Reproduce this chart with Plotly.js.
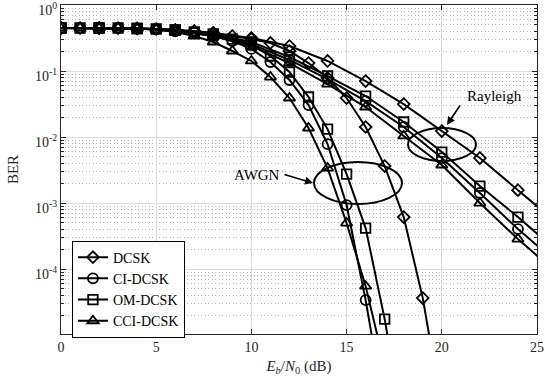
<!DOCTYPE html>
<html>
<head>
<meta charset="utf-8">
<script src="https://cdn.plot.ly/plotly-3.0.1.min.js"></script>
<style>html,body{margin:0;padding:0;background:#fff;}#chart{width:545px;height:387px;}</style>
</head>
<body>
<div id="chart"></div>
<script>
// ---- data ----
var schemes = ["DCSK", "CI-DCSK", "OM-DCSK", "CCI-DCSK"];

// AWGN channel, Eb/N0 step 1 dB
var snrAwgnDcsk = [0,1,2,3,4,5,6,7,8,9,10,11,12,13,14,15,16,17,18,19,20];
var berAwgnDcsk = [0.448,0.448,0.448,0.448,0.441,0.433,0.418,0.404,0.377,0.339,0.305,0.266,0.201,0.132,0.0783,0.039,0.0142,0.00364,0.000614,3.64e-5,7.8e-7];

var snrAwgnCi = [0,1,2,3,4,5,6,7,8,9,10,11,12,13,14,15,16,17];
var berAwgnCi = [0.448,0.448,0.448,0.448,0.441,0.433,0.404,0.377,0.339,0.285,0.216,0.137,0.0731,0.0305,0.00783,0.000933,3.39e-5,7.3e-7];

var snrAwgnOm = [0,1,2,3,4,5,6,7,8,9,10,11,12,13,14,15,16,17,18];
var berAwgnOm = [0.448,0.448,0.448,0.448,0.441,0.433,0.418,0.390,0.351,0.305,0.248,0.169,0.0966,0.0404,0.0132,0.00275,0.000418,1.75e-5,3.6e-7];

var snrAwgnCci = [0,1,2,3,4,5,6,7,8,9,10,11,12,13,14,15,16,17];
var berAwgnCci = [0.448,0.448,0.448,0.448,0.441,0.425,0.390,0.339,0.275,0.201,0.142,0.0811,0.039,0.0137,0.00339,0.000498,5.52e-5,3.39e-6];

// Rayleigh fading channel, Eb/N0 step 2 dB
var snrRay = [0,2,4,6,8,10,12,14,16,18,20,22,24,26];
var berRayDcsk = [0.448,0.448,0.441,0.418,0.377,0.316,0.239,0.142,0.0705,0.0316,0.0123,0.00481,0.00157,0.000515];
var berRayOm   = [0.448,0.448,0.441,0.418,0.364,0.275,0.163,0.0840,0.0418,0.0169,0.00593,0.00181,0.000614,0.000194];
var berRayCi   = [0.448,0.448,0.441,0.404,0.351,0.257,0.147,0.0757,0.0351,0.0142,0.00481,0.00142,0.000404,0.000128];
var berRayCci  = [0.448,0.448,0.441,0.404,0.339,0.239,0.132,0.0635,0.0285,0.0104,0.00377,0.00100,0.000285,9.01e-5];

var xTicks = [0,5,10,15,20,25];
var yTickVals = [1,0.1,0.01,0.001,0.0001];
var yTickText = ["10<sup>0</sup>","10<sup>-1</sup>","10<sup>-2</sup>","10<sup>-3</sup>","10<sup>-4</sup>"];

// ---- drawing ----
var FONT = "Liberation Serif";
var symbols = ["diamond-open","circle-open","square-open","triangle-up-open"];
var symSizes = [9, 10, 9.5, 10];
var awgnX = [snrAwgnDcsk, snrAwgnCi, snrAwgnOm, snrAwgnCci];
var awgnY = [berAwgnDcsk, berAwgnCi, berAwgnOm, berAwgnCci];
var rayY = [berRayDcsk, berRayCi, berRayOm, berRayCci];

var traces = [];
for (var i = 0; i < 4; i++) {
  traces.push({
    x: awgnX[i], y: awgnY[i], type: "scatter", mode: "lines+markers",
    name: schemes[i], legendgroup: schemes[i], showlegend: true,
    line: {color: "#000", width: 2},
    marker: {symbol: symbols[i], size: symSizes[i], color: "#000", line: {color: "#000", width: 1.8}}
  });
  traces.push({
    x: snrRay, y: rayY[i], type: "scatter", mode: "lines+markers",
    name: schemes[i], legendgroup: schemes[i], showlegend: false,
    line: {color: "#000", width: 2},
    marker: {symbol: symbols[i], size: symSizes[i], color: "#000", line: {color: "#000", width: 1.8}}
  });
}

var minorVals = [];
for (var d = -5; d < 0; d++) {
  for (var k = 2; k <= 9; k++) minorVals.push(k * Math.pow(10, d));
}

var layout = {
  width: 545, height: 387,
  margin: {l: 61, r: 8, t: 5, b: 53},
  paper_bgcolor: "#fff", plot_bgcolor: "#fff",
  font: {family: FONT, size: 14, color: "#262626"},
  showlegend: true,
  legend: {
    x: 0.023, y: 0.284, xanchor: "left", yanchor: "top",
    bgcolor: "#fff", bordercolor: "#000", borderwidth: 1,
    font: {family: FONT, size: 14, color: "#000"},
    tracegroupgap: 0
  },
  xaxis: {
    range: [0, 25], tickmode: "array", tickvals: xTicks,
    showline: true, linecolor: "#262626", linewidth: 1, mirror: "ticks",
    ticks: "inside", ticklen: 5, tickcolor: "#262626",
    showgrid: true, gridcolor: "#dcdcdc", gridwidth: 1, zeroline: false,
    tickfont: {family: FONT, size: 14, color: "#262626"},
    title: {text: "<i>E</i><sub><i>b</i></sub>/<i>N</i><sub>0</sub> (dB)", font: {family: FONT, size: 15, color: "#262626"}, standoff: 6}
  },
  yaxis: {
    type: "log", range: [Math.log10(1.04e-5), 0],
    tickmode: "array", tickvals: yTickVals, ticktext: yTickText,
    ticklabeloverflow: "allow", ticklabelshift: 5,
    showline: true, linecolor: "#262626", linewidth: 1, mirror: "ticks",
    ticks: "inside", ticklen: 5, tickcolor: "#262626",
    showgrid: true, gridcolor: "#dcdcdc", gridwidth: 1, zeroline: false,
    tickfont: {family: FONT, size: 14, color: "#262626"},
    minor: {tickmode: "array", tickvals: minorVals, ticks: "inside", ticklen: 3, tickcolor: "#262626",
            showgrid: true, gridcolor: "#b4b4b4", griddash: "1px,2.5px", gridwidth: 1},
    title: {text: "BER", font: {family: FONT, size: 15, color: "#262626"}, standoff: 12}
  },
  shapes: [
    {type: "circle", xref: "paper", yref: "paper", x0: 0.729, x1: 0.8718, y0: 0.5258, y1: 0.6261,
     line: {color: "#000", width: 2}},
    {type: "circle", xref: "paper", yref: "paper", x0: 0.5315, x1: 0.7164, y0: 0.3951, y1: 0.5228,
     line: {color: "#000", width: 2}}
  ],
  annotations: [
    {text: "Rayleigh", xref: "paper", yref: "paper", x: 0.9097, y: 0.7234, xanchor: "center", yanchor: "middle",
     showarrow: false, font: {family: FONT, size: 15, color: "#000"}},
    {text: "", xref: "paper", yref: "paper", x: 0.8109, y: 0.6353, showarrow: true,
     ax: 14, ay: -21, arrowhead: 2, arrowsize: 1, arrowwidth: 1.6, arrowcolor: "#000"},
    {text: "AWGN", xref: "paper", yref: "paper", x: 0.4118, y: 0.4833, xanchor: "center", yanchor: "middle",
     showarrow: false, font: {family: FONT, size: 15, color: "#000"}},
    {text: "", xref: "paper", yref: "paper", x: 0.5294, y: 0.459, showarrow: true,
     ax: -30, ay: -9, arrowhead: 2, arrowsize: 1, arrowwidth: 1.6, arrowcolor: "#000"}
  ]
};

Plotly.newPlot("chart", traces, layout, {displayModeBar: false, staticPlot: true});
</script>
</body>
</html>
